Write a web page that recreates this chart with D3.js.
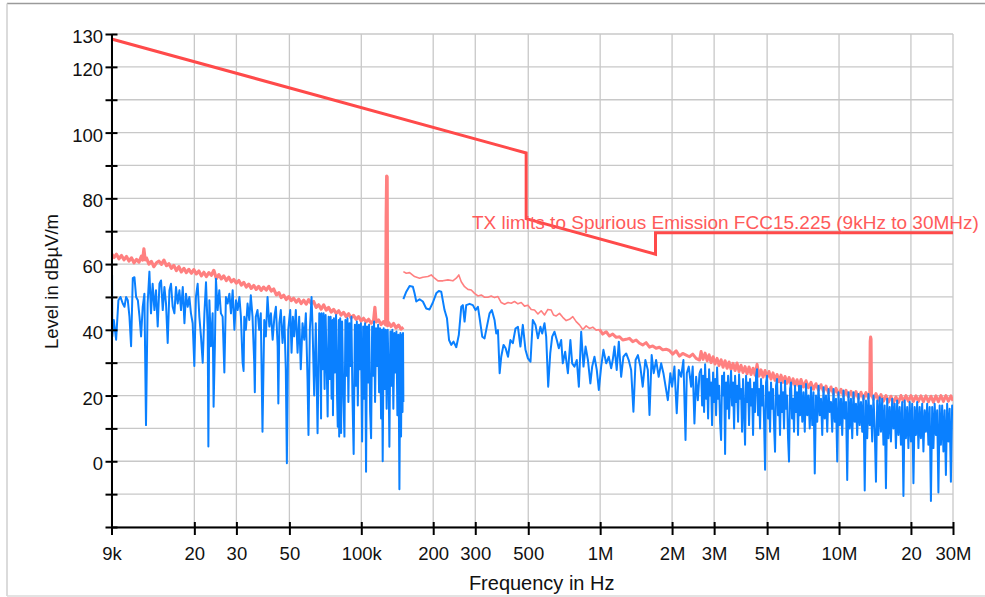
<!DOCTYPE html>
<html lang="en">
<head>
<meta charset="UTF-8">
<title>Spurious emission scan 9kHz - 30MHz</title>
<style>
  body { margin: 0; background: #fff; }
  svg { display: block; font-family: "Liberation Sans", Arial, sans-serif; }
  .grid line { stroke: #c8c8c8; stroke-width: 1.3px; }
  .axis path, .axis line { stroke: #000; stroke-width: 2px; }
  .axis text { font-size: 18.5px; fill: #111; font-family: "Liberation Sans", Arial, sans-serif; }
  .trace { fill: none; stroke-linejoin: round; }
</style>
</head>
<body>
<svg width="985" height="597"></svg>
<script src="https://d3js.org/d3.v7.min.js"></script>
<script>
  // x ticks (kHz) and their labels
  const xTicks = [9, 20, 30, 50, 100, 200, 300, 500, 1000, 2000, 3000, 5000, 10000, 20000, 30000];
  const xTickLabels = ["9k", "20", "30", "50", "100k", "200", "300", "500", "1M", "2M", "3M", "5M", "10M", "20", "30M"];
  // y ticks every 10 dB, only some of them labelled
  const yTicks = [-20, -10, 0, 10, 20, 30, 40, 50, 60, 70, 80, 90, 100, 110, 120, 130];
  const yTickLabels = [0, 20, 40, 60, 80, 100, 120, 130];

  // limit line FCC 15.225 (kHz, dBuV/m)
  const limitLine = [[9, 128.5], [490, 93.8], [490, 73.8], [1705, 63.0], [1705, 69.5], [30000, 69.5]];
  const limitLabel = "TX limits to Spurious Emission FCC15.225 (9kHz to 30MHz)";

  // peak trace (pink), 9k - 150k
  const peakLow = [[9.00,63.2],[9.22,62.0],[9.44,63.0],[9.67,61.6],[9.91,62.6],[10.15,61.3],[10.40,62.3],[10.65,60.9],[10.91,61.9],[11.18,60.4],[11.45,61.4],[11.73,60.6],[12.01,62.4],[12.15,61.2],[12.30,64.6],[12.45,61.3],[12.60,61.9],[12.91,60.0],[13.22,60.8],[13.54,59.2],[13.88,60.4],[14.22,60.9],[14.56,59.9],[14.92,61.2],[15.28,59.5],[15.65,60.1],[16.03,58.7],[16.42,59.6],[16.82,58.0],[17.23,59.2],[17.65,57.6],[18.08,58.7],[18.52,57.4],[18.97,58.4],[19.43,57.2],[19.90,58.3],[20.39,57.0],[20.89,57.9],[21.40,56.4],[21.92,57.5],[22.45,56.2],[23.0,57.4],[23.56,56.6],[24.13,58.1],[24.72,55.6],[25.32,56.8],[25.94,55.5],[26.57,56.4],[27.22,55.0],[27.88,56.0],[28.56,54.6],[29.26,55.3],[29.97,54.2],[30.70,55.0],[31.45,53.6],[32.22,54.4],[33.0,53.0],[33.8,53.9],[34.6,52.6],[35.45,53.5],[36.3,52.3],[37.2,53.2],[38.1,52.0],[39.0,53.0],[40.0,52.1],[41.0,53.2],[42.0,51.8],[43.0,52.4],[44.1,50.6],[45.2,51.3],[46.2,49.8],[47.35,50.5],[48.5,49.2],[49.7,50.1],[50.9,48.9],[52.1,49.6],[53.4,48.4],[54.7,49.3],[56.0,48.0],[57.4,49.0],[58.8,47.8],[60.2,49.2],[61.7,48.0],[63.2,48.6],[64.7,46.8],[66.3,47.6],[67.9,46.3],[69.6,47.6],[71.3,46.0],[73.0,46.8],[74.8,45.4],[76.6,46.2],[78.5,45.0],[80.4,45.8],[82.3,44.5],[84.3,45.3],[86.4,44.0],[88.5,44.9],[90.6,43.6],[92.8,44.4],[95.1,43.2],[97.4,44.0],[99.8,42.7],[102.2,43.5],[104.7,42.4],[107.3,43.2],[109.9,42.0],[112.6,42.8],[114.0,46.8],[115.3,42.4],[118.1,43.0],[121.0,41.6],[124.0,42.5],[126.5,41.5],[127.1,74],[127.7,86.8],[128.3,86.5],[128.9,41.2],[130.1,42.2],[133.2,41.0],[136.5,41.9],[139.8,40.6],[143.2,41.4],[146.7,40.2],[150,40.8]];

  // peak trace (pink), 150k - 1M
  const peakMid = [[150,57.7],[154.3,57.2],[159.3,57.4],[167.1,56.2],[175.4,55.7],[181.0,56.0],[190.1,56.2],[196.3,56.7],[202.7,55.7],[209.4,54.9],[219.5,54.9],[230.5,55.2],[241.7,54.9],[249.8,55.7],[256.0,56.7],[262.1,54.6],[270.6,53.1],[279.5,52.3],[288.6,52.1],[297.9,51.1],[307.8,50.3],[317.8,50.6],[328.1,49.9],[338.9,49.9],[349.9,50.3],[361.2,49.8],[373.3,50.1],[385.3,48.3],[397.8,47.8],[411.3,48.3],[424.3,48.1],[438.0,48.6],[452.6,47.9],[467.2,48.3],[482.3,47.2],[498.4,47.5],[514.4,46.2],[531.1,46.0],[548.8,44.8],[566.4,45.8],[584.7,44.5],[604.1,46.2],[623.7,46.0],[637.7,44.5],[654.6,44.2],[675.8,45.0],[697.5,43.8],[720.8,42.8],[744.2,43.2],[768.1,44.0],[793.6,42.5],[819.3,41.5],[845.8,40.1],[873.9,41.2],[902.2,40.4],[931.3,40.8],[962.3,39.9],[993.5,40.1]];

  // peak trace (pink), 1M - 30M
  const peakHigh = [[993.5,40.1],[1025,38.7],[1060,39.4],[1094,38.1],[1129,38.7],[1167,37.7],[1205,37.9],[1243,36.9],[1285,37.1],[1326,37.4],[1369,36.4],[1415,36.9],[1461,35.9],[1507,35.4],[1557,36.1],[1609,34.7],[1660,35.1],[1715,34.4],[1770,34.7],[1828,33.9],[1889,34.1],[1950,33.7],[2013,32.6],[2080,33.6],[2148,32.0],[2216,32.8],[2290,32.3],[2364,31.8],[2441,32.6],[2522,31.3],[2606,30.8],
    [2646,33.4],[2697,31.0],[2750,32.9],[2804,30.6],[2858,32.4],[2913,30.0],[2970,31.8],[3028,29.6],[3087,31.3],[3147,29.1],[3208,30.9],[3270,28.6],[3334,30.6],[3399,28.3],[3465,30.2],[3532,27.9],[3601,29.8],[3671,27.6],[3742,29.9],[3815,27.3],[3889,29.2],[3965,27.0],[4042,28.8],[4121,26.6],[4201,28.7],[4283,26.4],[4366,28.3],[4451,26.2],[4538,29.5],[4626,25.9],[4716,27.8],[4808,25.6],[4902,27.6],[4997,25.5],[5094,27.3],[5192,25.0],[5293,26.9],[5396,24.6],[5501,26.4],[5608,24.2],[5717,26.2],[5829,24.0],[5942,25.8],[6058,23.7],[6176,25.5],[6296,23.3],[6419,25.1],[6543,23.0],[6671,24.8],[6801,22.8],
    [6932,24.9],[7101,22.6],[7274,24.5],[7451,22.4],[7633,24.0],[7819,21.9],[8009,23.6],[8204,21.6],[8404,23.3],[8609,21.2],[8818,22.9],[9033,20.8],[9254,22.6],[9480,20.5],[9710,22.2],[9946,20.2],[10190,21.9],[10439,19.9],[10692,21.6],[10952,19.6],[11220,21.3],[11494,19.3],[11773,21.2],[12059,19.1],[12355,21.0],[12656,19.0],[12964,20.9],[13279,19.2],[13440,20.5],[13500,36.5],[13560,37.8],[13620,37.2],[13680,20.3],[13936,18.8],[14275,20.6],[14622,18.6],[14980,20.3],[15345,18.3],[15718,20.0],[16101,18.0],[16494,19.8],[16896,17.8],[17307,19.6],[17728,17.9],[18162,20.0],[18604,18.3],[19057,20.0],[19520,18.3],[20000,20.0],[20488,18.2],[20986,19.9],[21497,18.2],[22020,19.9],[22556,18.1],[23105,19.9],[23667,18.1],[24250,19.8],[24840,18.0],[25444,19.9],[26063,18.1],[26700,20.0],[27350,18.2],[28015,20.0],[28697,18.3],[29400,19.9],[30000,18.4]];

  // average trace (blue), 9k - 150k
  const avgLow = [[9.0,58.5],[9.05,56.7],[9.07,38],[9.2,43],[9.41,37],[9.62,49],[9.81,50],[10.03,48],[10.2,47],[10.36,50],[10.53,49],[10.7,44],[10.87,35],[11.05,55.7],[11.23,56],[11.41,50],[11.6,49],[11.79,44],[11.97,38],[12.16,47],[12.36,51],[12.55,11],[12.75,48],[12.97,57.7],[13.17,45],[13.38,54],[13.61,46],[13.82,52],[14.05,41],[14.29,54],[14.51,55],[14.75,46],[14.99,53],[15.22,48],[15.47,36],[15.73,52],[15.97,54],[16.23,47],[16.5,45],[16.76,53],[17.03,48],[17.32,52],[17.59,46],[17.89,53],[18.18,42],[18.45,51],[18.76,47],[19.06,50],[19.36,45],[19.68,42],[20.0,29],[20.31,50],[20.65,54],[20.99,44],[21.32,38],[21.68,30],[22.04,45],[22.38,54.5],[22.75,40],[22.9,4.5],[23.12,49],[23.47,35],[23.86,45],[24.08,16.6],[24.38,35],[24.63,55.5],[25.04,46],[25.44,52],[25.84,45],[26.27,44],[26.71,27],[27.12,50],[27.57,48],[28.04,51],[28.47,45],[28.94,52],[29.43,40],[29.88,49],[30.37,46],[30.88,50],[31.33,44],[31.85,30],[32.16,27.5],[32.37,44],[32.87,40],[33.41,48],[33.96,43],[34.47,50.5],[35.04,44],[35.62,30],[35.83,21],[36.16,44],[36.77,46],[37.37,40],[37.95,45],[38.58,9],[39.24,43],[39.85,38],[40.5,50],[41.2,41],[41.84,45],[42.55,37],[43.28,44],[43.9,47],[44.65,35],[44.95,17.6],[45.4,42],[46.03,46],[46.8,36],[47.6,44],[48.3,28],[48.8,-0.6],[49.45,40],[50.4,46],[51.05,33],[51.7,44],[52.35,38],[53.2,46],[54.1,33],[54.95,44],[55.8,28],[56.75,42],[57.7,37],[58.6,45],[59.55,25],[60.1,8],[60.9,40],[61.9,50],[62.5,41],[63.5,20],[64.5,42],[65.6,8.5],[66.7,45],
    [67.3,44],[67.85,13],[68.1,45],[68.8,28],[69.5,45],[70.2,22],[70.9,44.5],[71.6,30],[72.3,13.6],[73.0,44],[73.7,25],[74.4,44],[75.1,19],[75.9,43],[76.1,14],[76.8,43.5],[77.6,27],[78.4,44.5],[79.1,21],[79.7,10.5],[80.5,43],[80.8,7.5],[81.6,43.5],[82.3,8.6],[83.1,42.5],[83.9,24],[85.0,7.5],[85.8,43],[86.6,26],[87.5,43.5],[88.3,18],[89.2,42],[90.0,29],[90.9,44],[91.8,20],[92.9,2.2],[94.0,41.5],[94.9,23],[95.8,42.5],[96.7,17],[97.7,41.5],[98.6,28],[99.6,42],[100.8,6],[101.8,41],[102.7,19],[103.7,42],[104.7,-3.2],[105.7,41],[106.8,24],[107.8,41.5],[108.9,15],[109.9,7],[111.0,41],[112.0,26],[113.1,42.5],[114.2,18],[115.3,40.5],[116.4,29],[117.6,41.5],[118.7,21],[119.8,40.5],[121.0,13],[121.9,40],[122.9,0],[124.1,40.5],[125.3,22],[126.5,40],[127.7,16],[129.0,40],[130.2,25],[131.1,4.4],[132.4,39.5],[133.6,23],[134.9,40],[136.2,16],[137.6,39],[138.9,27],[140.3,39.5],[141.6,14],[143.0,38.5],[144.4,-8.5],[145.8,39],[146.7,7.5],[147.8,38.5],[148.8,15],[149.5,39],[150,18]];

  // average trace (blue), 150k - 2.6M
  const avgMid = [[150,49.3],[154.3,51.6],[159.3,53.3],[164.4,53.1],[167.1,51.1],[169.9,48.6],[175.4,49.3],[181.0,48.6],[187.0,46.5],[193.1,46.2],[199.4,48.3],[206.0,51.1],[211.1,51.8],[216.1,51.6],[223.1,46.0],[228.4,43.5],[233.0,36.9],[238.0,35.4],[243.3,36.4],[249.8,34.7],[256.0,38.4],[262.1,47.0],[266.2,47.5],[270.6,42.5],[275.0,47.5],[284.0,47.9],[293.1,47.5],[300.7,46.0],[307.8,47.0],[313.0,43.5],[320.9,37.9],[328.1,37.4],[335.4,40.9],[344.3,45.0],[351.9,46.0],[361.2,43.0],[367.2,38.9],[373.3,39.9],[379.5,26.8],[385.3,31.8],[393.9,35.4],[402.1,34.4],[411.3,31.8],[421.0,36.9],[430.9,35.9],[442.1,40.4],[452.6,40.9],[463.6,34.9],[474.5,41.5],[486.8,33.9],[498.4,31.3],[510.9,30.3],[522.4,43.0],[536.0,41.5],[548.8,37.4],[562.1,40.9],[571.9,38.9],[584.7,42.0],[594.3,37.9],[606.0,22.7],[618.0,32.8],[629.7,37.9],[643.8,39.4],[658.3,36.9],[671.5,34.4],[686.8,36.9],[697.5,29.8],[713.8,33.3],[732.7,26.8],[750.5,36.9],[763.5,29.8],[780.6,28.8],[798.2,30.8],[814.2,22.7],[832.7,39.4],[851.4,28.8],[868.9,34.9],[888.8,30.8],[909.9,23.7],[925.8,28.8],[946.5,31.8],[967.8,27.8],[987.2,21.7],
    [1009.6,28.8],[1032,33.9],[1060,29.8],[1086,31.8],[1112,28.3],[1129,30.8],[1148,34.9],[1173,27.8],[1197,36.4],[1224,25.7],[1251,31.8],[1285,32.8],[1317,30.8],[1348,27.8],[1378,15.1],[1407,30.8],[1439,32.3],[1473,28.8],[1507,22.7],[1546,30.8],[1583,27.8],[1609,14.1],[1643,32.3],[1676,26.8],[1715,30.8],[1758,25.7],[1800,29.8],[1840,26.8],[1889,21.7],[1920,18.6],[1967,26.8],[2001,22.7],[2046,28.8],[2092,14.6],[2134,27.8],[2182,25.7],[2231,30.8],[2277,6.5],[2305,26.8],[2349,28.8],[2403,22.7],[2440,28.8],[2481,11.5],[2522,25.7],[2564,18.6],[2606,26.8]];

  // average trace (blue), 2.6M - 30M
  const avgHigh = [[2606,26.8],[2646,28],[2672,17],[2697,26],[2723,15],[2750,29.5],[2777,19],[2804,25],[2831,13],[2858,28],[2886,20],[2913,24],[2941,11],[2970,27],[2999,18],[3028,25],[3057,14],[3087,28.5],[3117,19],[3147,23],[3177,12],[3208,6.5],[3239,26],[3270,20],[3302,27],[3334,2.2],[3366,24],[3399,16],[3432,26],[3465,13],[3499,22],[3532,27.5],[3566,17],[3601,24],[3636,10],[3671,26],[3707,18],[3742,23],[3779,12],[3815,26.5],[3852,19],[3889,22],[3927,9],[3965,25],[4003,16],[4042,5],[4081,26],[4121,18],[4161,24],[4201,11],[4242,25],[4283,17],[4324,22],[4366,8],[4408,24],[4451,15],[4494,26],[4538,28],[4582,14],[4626,22],[4671,10],[4716,25],[4762,17],[4808,23],[4855,12],[4902,-2.6],[4949,24],[4997,26],[5045,13],[5094,21],[5143,9],[5192,24],[5242,16],[5293,22],[5344,11],[5396,2.9],[5448,23],[5501,25],[5554,14],[5608,20],[5662,8],[5717,24],[5772,15],[5829,21],[5885,10],[5942,24.5],[6000,16],[6058,20],[6117,7],[6176,-0.1],[6236,22],[6296,24],[6357,13],[6419,19],[6481,9],[6543,23],[6607,15],[6671,21],[6736,8],[6801,23],[6866,14],
    [6932,23],[7016,12],[7101,21],[7187,9],[7274,23.5],[7362,14],[7451,20],[7541,10],[7633,22.5],[7726,11],[7819,21],[7914,-3.7],[8009,20],[8106,12],[8204,23],[8303,14],[8404,19],[8506,8],[8609,22.5],[8713,13],[8818,20],[8925,9],[9033,22],[9142,15],[9254,18],[9366,9],[9480,22],[9595,12],[9710,19],[9828,-0.1],[9946,21],[10067,11],[10190,19],[10313,8],[10439,21.5],[10565,13],[10692,18],[10822,-5.7],[10952,21],[11085,10],[11220,19],[11356,7],[11494,21],[11633,12],[11773,17.5],[11916,8],[12059,20.5],[12205,11],[12355,18],[12505,9],[12656,20],[12810,-8.9],[12964,18.5],[13121,7],[13279,20.5],[13440,11],[13604,17],[13769,6],[13936,20],[14105,10],[14275,-6.2],[14448,18.5],[14622,8],[14799,19.5],[14980,9],[15161,19],[15345,5],[15531,17],[15718,-8.2],[15909,19],[16101,7],[16295,16.5],[16494,6],[16694,19],[16896,10],[17101,17.5],[17307,4],[17516,18.5],[17728,8],[17942,16.5],[18162,5],[18382,18],[18604,-10.6],[18829,18.5],[19057,7],[19287,16.5],[19520,4],[19757,18],[20000,6],[20242,17.5],[20488,-6.7],[20736,16.5],[20986,8],[21240,18],[21497,4],[21757,16.5],[22020,7],[22287,17.5],[22556,3],[22829,15.5],[23105,9],[23385,17.5],[23667,5],[23954,16.5],[24250,-12.1],[24543,16.5],[24840,4],[25140,17.5],[25444,8],[25752,15.5],[26063,-9.5],[26379,17],[26700,5],[27023,17],[27350,3],[27681,15.5],[28015,-4.2],[28354,17.5],[28697,6],[29045,16],[29400,-6.2],[29750,17],[30000,15]];

  const svg = d3.select("svg");
  const plotLeft = 111.5, plotRight = 953, plotTop = 34, plotBottom = 527;

  const x = d3.scaleLog().domain([9, 30000]).range([plotLeft, plotRight]);
  const y = d3.scaleLinear().domain([-20, 130]).range([plotBottom, plotTop]);

  // outer frame
  svg.append("line").attr("x1", 7).attr("x2", 985).attr("y1", 3.5).attr("y2", 3.5)
    .attr("stroke", "#9a9a9a").attr("stroke-width", 1.5);
  svg.append("line").attr("x1", 7).attr("x2", 7).attr("y1", 3.5).attr("y2", 596)
    .attr("stroke", "#cfcfcf").attr("stroke-width", 1.5);
  svg.append("line").attr("x1", 7).attr("x2", 985).attr("y1", 596).attr("y2", 596)
    .attr("stroke", "#dadada").attr("stroke-width", 1.5);

  // grid
  const grid = svg.append("g").attr("class", "grid");
  grid.selectAll(".h").data(yTicks).enter().append("line")
    .attr("x1", plotLeft).attr("x2", plotRight)
    .attr("y1", d => y(d)).attr("y2", d => y(d));
  grid.selectAll(".v").data(xTicks).enter().append("line")
    .attr("x1", d => x(d)).attr("x2", d => x(d))
    .attr("y1", plotTop).attr("y2", plotBottom);

  svg.append("clipPath").attr("id", "plot")
    .append("rect").attr("x", plotLeft).attr("y", plotTop)
    .attr("width", plotRight - plotLeft).attr("height", plotBottom - plotTop);

  const line = d3.line().x(d => x(d[0])).y(d => y(d[1]));
  const traces = svg.append("g").attr("clip-path", "url(#plot)");

  // pink first, blue on top
  [[peakLow, 3.2], [peakMid, 1.6], [peakHigh, 3]].forEach(([seg, w]) => {
    traces.append("path").datum(seg).attr("class", "trace")
      .attr("stroke", "#ff8080").attr("stroke-width", w).attr("d", line);
  });
  [[avgLow, 2], [avgMid, 2], [avgHigh, 2]].forEach(([seg, w]) => {
    traces.append("path").datum(seg).attr("class", "trace")
      .attr("stroke", "#0a80ff").attr("stroke-width", w).attr("d", line);
  });

  traces.append("path").datum(limitLine)
    .attr("fill", "none").attr("stroke", "#ff4a4a").attr("stroke-width", 3)
    .attr("d", line);

  svg.append("text")
    .attr("x", 472).attr("y", 229)
    .attr("fill", "#ff5a5a")
    .style("font-size", "19px")
    .text(limitLabel);

  // axes
  const yAxis = d3.axisLeft(y).tickValues(yTicks).tickSize(6).tickSizeOuter(0).tickPadding(2.5)
    .tickFormat(d => yTickLabels.includes(d) ? d : "");
  const gy = svg.append("g").attr("class", "axis").attr("transform", `translate(${plotLeft},0)`).call(yAxis);
  gy.selectAll(".tick line").attr("x1", 6);
  gy.selectAll(".tick text").attr("dy", "0.46em");

  const xAxis = d3.axisBottom(x).tickValues(xTicks).tickSize(8).tickSizeOuter(0).tickPadding(12)
    .tickFormat((d, i) => xTickLabels[i]);
  const gx = svg.append("g").attr("class", "axis").attr("transform", `translate(0,${plotBottom})`).call(xAxis);
  gx.selectAll(".tick line").attr("y1", -5);

  // axis titles
  svg.append("text")
    .attr("transform", "translate(58,281.5) rotate(-90)")
    .attr("text-anchor", "middle")
    .style("font-size", "18.5px").attr("fill", "#111")
    .text("Level in dBµV/m");
  svg.append("text")
    .attr("x", 541.7).attr("y", 590)
    .attr("text-anchor", "middle")
    .style("font-size", "20px").attr("fill", "#111")
    .text("Frequency in Hz");
</script>
</body>
</html>
